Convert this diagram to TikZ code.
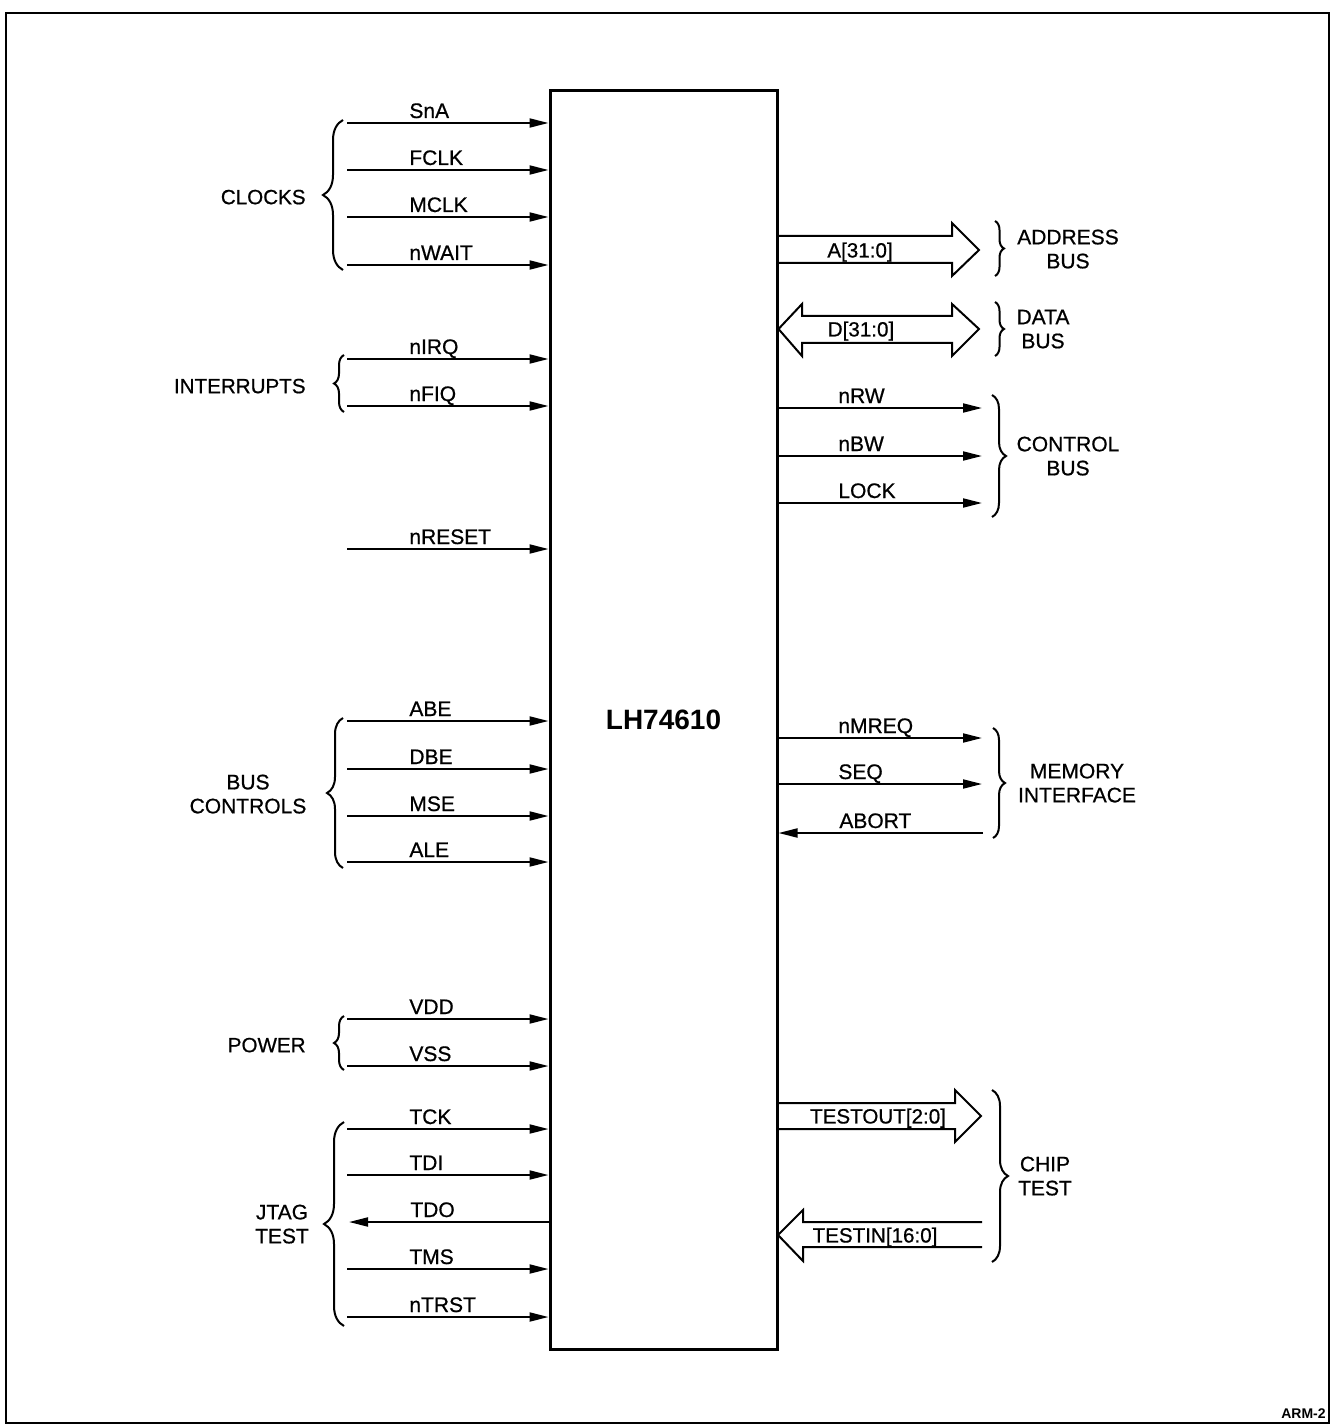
\documentclass[tikz,border=0pt]{standalone}
\usepackage{fontspec}
\setmainfont{Liberation Sans}
\newfontfamily\medsans{Liberation Sans}[FakeBold=0.7]
\usetikzlibrary{arrows.meta,decorations.pathreplacing}
\begin{document}
\begin{tikzpicture}[x=0.5pt,y=-0.5pt,
  sig/.style={line width=1pt,-{Triangle[length=9.5pt,width=4.5pt]}},
  lbl/.style={font=\medsans\fontsize{10.5}{12}\selectfont,inner sep=0pt,anchor=base west},
  clbl/.style={font=\medsans\fontsize{10.3}{12}\selectfont,inner sep=0pt,text depth=0pt},
  grp/.style={font=\medsans\fontsize{10.5}{12}\selectfont,inner sep=0pt,align=center,text depth=0pt},
  bracedeco/.style={decorate,decoration={brace,amplitude=#1},line width=1pt},
  fat/.style={line width=1pt,line join=miter}]
\useasboundingbox (0,0) rectangle (1335,1428);
\draw[line width=1.1pt] (6,13) rectangle (1329,1423);
\node[draw,line width=1.5pt,minimum width=113.5pt,minimum height=629pt,inner sep=0pt,
  font=\bfseries\fontsize{14}{16}\selectfont] (chip) at (663.5,720) {LH74610};
% left inputs
\foreach \n/\y/\t in {sna/123/SnA,fclk/170/FCLK,mclk/217/MCLK,nwait/265/nWAIT,
  nirq/359/nIRQ,nfiq/406/nFIQ,nreset/549/nRESET,abe/721/ABE,dbe/769/DBE,mse/816/MSE,
  ale/862/ALE,vdd/1019/VDD,vss/1066/VSS,tck/1129/TCK,tdi/1175/TDI,tms/1269/TMS,ntrst/1317/nTRST}{
  \coordinate (\n) at (347,\y);
  \draw[sig] (\n) -- (\n -| chip.west);
  \node[lbl] (\n-t) at (409,\y-5) {\t};
}
\coordinate (tdo) at (349,1222);
\draw[sig] (tdo -| chip.west) -- (tdo);
\node[lbl] (tdo-t) at (410,1217) {TDO};
% right outputs
\foreach \n/\y/\t in {nrw/408/nRW,nbw/456/nBW,lock/503/LOCK,nmreq/738/nMREQ,seq/784/SEQ}{
  \coordinate (\n) at (982,\y);
  \draw[sig] (chip.east |- \n) -- (\n);
  \node[lbl] (\n-t) at (838,\y-5) {\t};
}
\coordinate (abort) at (983,833);
\draw[sig] (abort) -- (abort -| chip.east);
\node[lbl] (abort-t) at (839,828) {ABORT};
% fat bus arrows
\coordinate (aTop) at (952,236); \coordinate (aBot) at (952,263);
\draw[fat] (chip.east |- aTop) -- (aTop) -- (952,223) -- (979,250) -- (952,276) -- (aBot) -- (chip.east |- aBot);
\node[clbl] (a-t) at (860,250) {A[31:0]};
\coordinate (dL) at (777,329);
\draw[fat] (chip.east |- dL) -- (802,304) -- (802,316) -- (952,316) -- (952,304) -- (979,329)
  -- (952,356) -- (952,343) -- (802,343) -- (802,356) -- cycle;
\node[clbl] (d-t) at (861,329) {D[31:0]};
\coordinate (toTop) at (955,1103); \coordinate (toBot) at (955,1129);
\draw[fat] (chip.east |- toTop) -- (toTop) -- (955,1090) -- (981,1116) -- (955,1142) -- (toBot) -- (chip.east |- toBot);
\node[clbl] (to-t) at (878,1116) {TESTOUT[2:0]};
\coordinate (tiTip) at (778,1235);
\draw[fat] (982,1222) -- (803,1222) -- (803,1210) -- (tiTip) -- (803,1261) -- (803,1247) -- (982,1247);
\node[clbl] (ti-t) at (875,1235) {TESTIN[16:0]};
% left braces
\draw[bracedeco=10pt] (343,270) -- (343,120);
\node[clbl,anchor=east] (clocks) at (306,197) {CLOCKS};
\draw[bracedeco=5pt] (344,412) -- (344,355);
\node[clbl,anchor=east] (ints) at (306,386) {INTERRUPTS};
\draw[bracedeco=8pt] (343,868) -- (343,718);
\node[grp] (busc) at (248,794) {BUS\\CONTROLS};
\draw[bracedeco=5pt] (344,1070) -- (344,1016);
\node[clbl,anchor=east] (power) at (306,1045) {POWER};
\draw[bracedeco=10pt] (344,1326) -- (344,1122);
\node[grp] (jtag) at (282,1224) {JTAG\\TEST};
% right braces
\draw[bracedeco=4.5pt] (995,221) -- (995,276);
\node[grp] (addr) at (1068,249) {ADDRESS\\BUS};
\draw[bracedeco=4.5pt] (995,302) -- (995,356);
\node[grp] (data) at (1043,329) {DATA\\BUS};
\draw[bracedeco=7pt] (992,395) -- (992,517);
\node[grp] (ctrl) at (1068,456) {CONTROL\\BUS};
\draw[bracedeco=6pt] (993,728) -- (993,838);
\node[grp] (mem) at (1077,783) {MEMORY\\INTERFACE};
\draw[bracedeco=8pt] (992,1090) -- (992,1262);
\node[grp] (chipt) at (1045,1176) {CHIP\\TEST};
\node[font=\bfseries\fontsize{7}{8}\selectfont,anchor=south east,inner sep=0pt] (arm) at (1326,1419) {ARM-2};
\end{tikzpicture}
\end{document}
